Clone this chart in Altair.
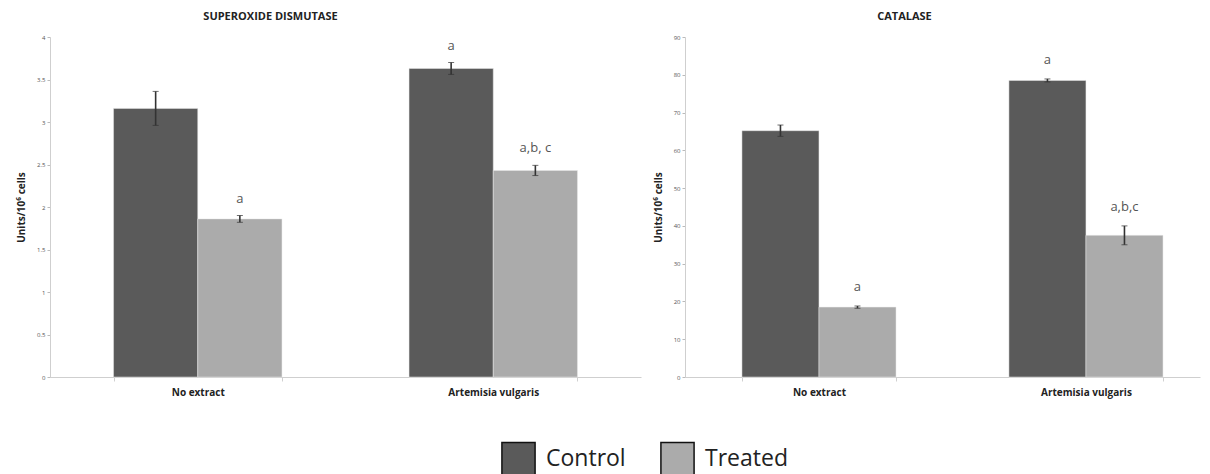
import altair as alt
import pandas as pd

categories = ["No extract", "Artemisia vulgaris"]
groups = ["Control", "Treated"]

sod_control = [3.16, 3.63]
sod_treated = [1.86, 2.43]
sod_err_control = [0.20, 0.07]
sod_err_treated = [0.04, 0.06]
sod_lab_control = ["", "a"]
sod_lab_treated = ["a", "a,b, c"]
sod_ticks = [0, 0.5, 1, 1.5, 2, 2.5, 3, 3.5, 4]

cat_control = [65.2, 78.5]
cat_treated = [18.5, 37.5]
cat_err_control = [1.5, 0.4]
cat_err_treated = [0.3, 2.5]
cat_lab_control = ["", "a"]
cat_lab_treated = ["a", "a,b,c"]
cat_ticks = [0, 10, 20, 30, 40, 50, 60, 70, 80, 90]

FONT = "Open Sans"
COLORS = ["#5a5a5a", "#ababab"]
YTITLE = "Units/10⁶ cells"


def build_df(ctrl, trt, ectrl, etrt, lctrl, ltrt):
    rows = []
    for i, c in enumerate(categories):
        for g, v, e, l in (("Control", ctrl[i], ectrl[i], lctrl[i]),
                           ("Treated", trt[i], etrt[i], ltrt[i])):
            rows.append({"cat": c, "grp": g, "val": v, "lo": v - e, "hi": v + e, "lab": l})
    return pd.DataFrame(rows)


def panel(df, title, ticks, width, pin, pout, align, title_dx, label_dy):
    ymax = ticks[-1]
    xaxis = alt.Axis(labelAngle=0, labelFont=FONT, labelFontWeight="bold",
                     labelFontSize=10, labelColor="#222", labelPadding=6,
                     ticks=True, tickBand="extent", tickSize=4, tickColor="#d0d0d0",
                     domainColor="#cfcfcf")
    xscale = alt.Scale(paddingInner=pin, paddingOuter=pout, align=align)
    yaxis = alt.Axis(values=ticks, grid=False, labelFont=FONT,
                     labelFontSize=6, labelColor="#555", tickSize=3, tickColor="#bbb",
                     labelOverlap=False, labelExpr="datum.value + ''",
                     domainColor="#cfcfcf", titleFont=FONT, titleFontSize=10,
                     titleFontWeight="bold", titleColor="#222", titlePadding=10)
    yscale = alt.Scale(domain=[0, ymax], nice=False)

    def X():
        return alt.X("cat:N", sort=categories, title=None, scale=xscale, axis=xaxis)

    def Y(field):
        return alt.Y(field, title=YTITLE, scale=yscale, axis=yaxis)

    xo = alt.XOffset("grp:N", sort=groups, scale=alt.Scale(paddingInner=0, paddingOuter=0))
    base = alt.Chart(df)
    bars = base.mark_bar(stroke="#e8e8e8", strokeWidth=0.5).encode(
        x=X(), xOffset=xo, y=Y("val:Q"),
        color=alt.Color("grp:N", sort=groups, scale=alt.Scale(domain=groups, range=COLORS),
                        legend=alt.Legend(title=None, orient="none", legendX=451, legendY=404,
                                          direction="horizontal", symbolType="square",
                                          symbolSize=1100, symbolStrokeColor="#111",
                                          symbolStrokeWidth=1.5, labelFont=FONT,
                                          labelFontSize=23, labelColor="#222",
                                          labelOffset=10, columnPadding=31)))
    rules = base.mark_rule(color="#333", strokeWidth=1.6).encode(
        x=X(), xOffset=xo, y=Y("lo:Q"), y2="hi:Q")
    caps_hi = base.mark_tick(color="#333", size=6, thickness=1).encode(
        x=X(), xOffset=xo, y=Y("hi:Q"))
    caps_lo = base.mark_tick(color="#333", size=6, thickness=1).encode(
        x=X(), xOffset=xo, y=Y("lo:Q"))
    labels = base.mark_text(font=FONT, fontSize=13, color="#555", baseline="bottom",
                            dy=label_dy).encode(
        x=X(), xOffset=xo, y=Y("hi:Q"), text="lab:N")
    return alt.layer(bars, rules, caps_hi, caps_lo, labels).properties(
        width=width, height=340,
        title=alt.TitleParams(title, font=FONT, fontSize=11, fontWeight="bold",
                              color="#222", dx=title_dx, offset=12))


df_sod = build_df(sod_control, sod_treated, sod_err_control, sod_err_treated,
                  sod_lab_control, sod_lab_treated)
df_cat = build_df(cat_control, cat_treated, cat_err_control, cat_err_treated,
                  cat_lab_control, cat_lab_treated)

left = panel(df_sod, "SUPEROXIDE DISMUTASE", sod_ticks, 591, 0.43, 0.215, 0.5, -75, -10)
right = panel(df_cat, "CATALASE", cat_ticks, 515, 0.423, 0.176, 0.606, -38, -12)

chart = alt.hconcat(left, right, spacing=12).resolve_scale(
    x="independent", xOffset="independent", y="independent"
).properties(
    padding={"left": 8, "top": 3, "right": 2, "bottom": 2},
    background="white",
).configure_view(stroke=None)

chart.save("out.html", embed_options={"renderer": "svg", "actions": False})
